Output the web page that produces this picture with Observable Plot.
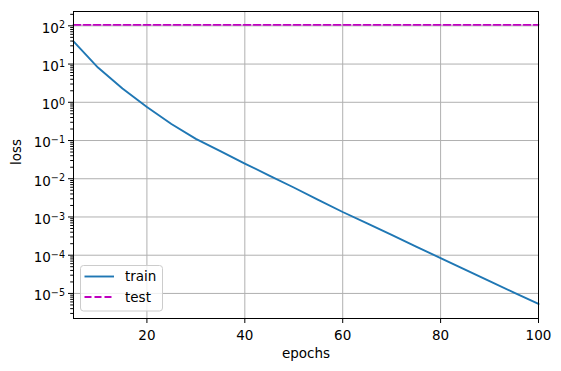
<!DOCTYPE html>
<html>
<head>
<meta charset="utf-8">
<script src="https://cdn.jsdelivr.net/npm/d3@7"></script>
<script src="https://cdn.jsdelivr.net/npm/@observablehq/plot@0.6"></script>
<style>
  html, body { margin: 0; padding: 0; background: white; }
</style>
</head>
<body>
<div id="chart"></div>
<script>
const epochs = [5, 10, 15, 20, 25, 30, 35, 40, 45, 50, 55, 60, 65, 70, 75, 80, 85, 90, 95, 100];
const trainLoss = [39, 8.1, 2.3, 0.75, 0.27, 0.11, 0.053, 0.025, 0.0121, 0.0059, 0.0028, 0.00135,
  0.00068, 0.00034, 0.000168, 0.000084, 0.000042, 0.000021, 0.0000105, 0.0000053];
const testLoss = [106, 106, 106, 106, 106, 106, 106, 106, 106, 106, 106, 106, 106, 106, 106, 106, 106, 106, 106, 106];
const xTicks = [20, 40, 60, 80, 100];
const yTicks = [1e-5, 1e-4, 1e-3, 1e-2, 1e-1, 1e0, 1e1, 1e2];
const yTickExponents = ["−5", "−4", "−3", "−2", "−1", "0", "1", "2"];
const seriesNames = ["train", "test"];
const seriesColors = ["#1f77b4", "#bf00bf"];

const yDomain = [2.21e-6, 237];
// minor log ticks (2..9 per decade) within the domain
const yMinor = [];
for (let e = -6; e <= 2; e++) {
  for (let m = 2; m <= 9; m++) {
    const v = m * Math.pow(10, e);
    if (v >= yDomain[0] && v <= yDomain[1]) yMinor.push(v);
  }
}

const trainData = epochs.map((e, i) => ({epoch: e, loss: trainLoss[i]}));
const testData = epochs.map((e, i) => ({epoch: e, loss: testLoss[i]}));

const font = "DejaVu Sans, sans-serif";
const fs = 13.5;
const svg = Plot.plot({
  width: 561,
  height: 371,
  marginLeft: 73,
  marginRight: 23,
  marginTop: 11,
  marginBottom: 53,
  style: {fontFamily: font, fontSize: fs + "px", background: "white", color: "black"},
  x: {domain: [5, 100]},
  y: {type: "log", domain: yDomain},
  marks: [
    Plot.gridX(xTicks, {stroke: "#b0b0b0", strokeOpacity: 1, strokeWidth: 1}),
    Plot.gridY(yTicks, {stroke: "#b0b0b0", strokeOpacity: 1, strokeWidth: 1}),
    Plot.line(trainData, {x: "epoch", y: "loss", stroke: seriesColors[0], strokeWidth: 1.9}),
    Plot.line(testData, {x: "epoch", y: "loss", stroke: seriesColors[1], strokeWidth: 1.9, strokeDasharray: "7,3"}),
    Plot.frame({stroke: "black", strokeWidth: 1}),
    Plot.axisX(xTicks, {tickSize: 5, tickPadding: 6.5, label: null, tickFormat: d => String(d), fontSize: fs}),
    Plot.axisY(yMinor, {tickSize: 2.8, label: null, tickFormat: () => ""}),
    Plot.axisY(yTicks, {tickSize: 5, tickPadding: 3.5, label: null, tickFormat: d => "10^" + yTickExponents[yTicks.indexOf(d)], fontSize: fs}),
    Plot.text(["epochs"], {frameAnchor: "bottom", dy: 35, lineAnchor: "middle", text: d => d, fontSize: fs}),
    Plot.text(["loss"], {frameAnchor: "left", dx: -56.5, rotate: -90, lineAnchor: "middle", text: d => d, fontSize: fs})
  ]
});

// turn "10^e" labels into base + superscript tspans
d3.select(svg).selectAll("text").each(function() {
  const t = this.textContent;
  const m = /^10\^(.+)$/.exec(t);
  if (!m) return;
  const sel = d3.select(this);
  sel.selectAll("*").remove();
  sel.text(null);
  sel.append("tspan").attr("dy", "2.5").text("10");
  sel.append("tspan").attr("font-size", "9.6px").attr("dy", "-4.3").text(m[1]);
});

// legend (lower left, inside the axes)
const g = d3.select(svg).append("g").attr("font-family", font).attr("font-size", fs + "px").attr("text-anchor", "start");
g.append("rect").attr("x", 80.5).attr("y", 265.5).attr("width", 82).attr("height", 45.5)
  .attr("rx", 3).attr("fill", "white").attr("fill-opacity", 0.8).attr("stroke", "#cccccc");
seriesNames.forEach((name, i) => {
  const y = 276.5 + i * 20.5;
  g.append("line").attr("x1", 84.5).attr("x2", 114).attr("y1", y).attr("y2", y)
    .attr("stroke", seriesColors[i]).attr("stroke-width", 1.9)
    .attr("stroke-dasharray", i === 1 ? "7,3" : null);
  g.append("text").attr("x", 125).attr("y", y).attr("dy", "0.35em").text(name);
});

document.getElementById("chart").appendChild(svg);
</script>
</body>
</html>
